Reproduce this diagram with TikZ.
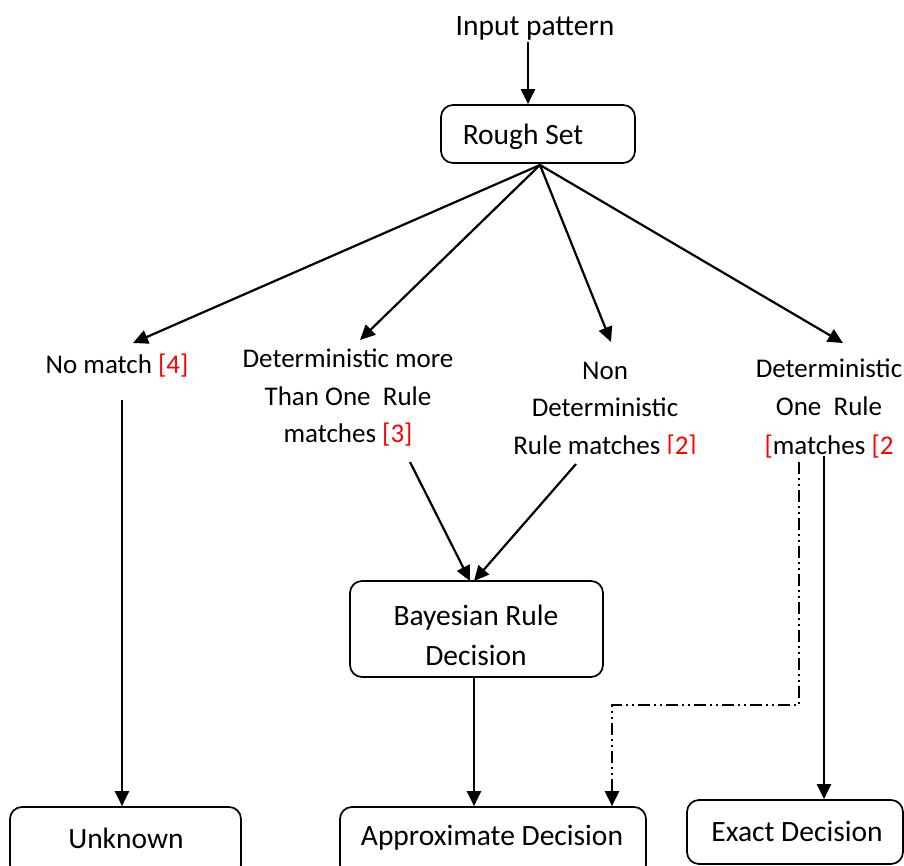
\documentclass[tikz,border=0pt]{standalone}
\usepackage{fontspec}
\setmainfont{Carlito}
\usetikzlibrary{arrows.meta}
\begin{document}
\begin{tikzpicture}[x=1pt,y=-1pt,
  txt/.style={font=\fontsize{29.5}{38}\selectfont, align=center, inner sep=0pt},
  mtxt/.style={font=\fontsize{27}{37.5}\selectfont, align=center, inner sep=0pt},
  box/.style={draw, line width=1.7pt, rounded corners=12pt, inner sep=0pt},
  conn/.style={line width=2.2pt, -{Triangle[length=15pt,width=14pt]}},
  dd/.style={conn, dash pattern=on 12pt off 4pt on 2pt off 4pt on 2pt off 4pt}]
\useasboundingbox (0,0) rectangle (904,866);
\newcommand{\rf}[1]{\textcolor{red}{#1}}
% boxes
\node[box, minimum width=194pt, minimum height=58pt] (rough) at (538,134) {};
\node[box, minimum width=253pt, minimum height=96pt] (bayes) at (476.5,629) {};
\node[box, minimum width=231pt, minimum height=70pt] (unk) at (125.5,842) {};
\node[box, minimum width=306pt, minimum height=70pt] (appr) at (493,842) {};
\node[box, minimum width=216pt, minimum height=64pt] (exact) at (795,832) {};
% texts
\node[txt] (inp) at (535,28) {Input pattern};
\node[txt] (roughT) at (523,137) {Rough Set};
\node[mtxt] (nm) at (117,366) {No match \rf{[4]}};
\node[mtxt] (dm) at (348,398) {Deterministic more\\Than One~ Rule\\matches \rf{[3]}};
\begin{scope}
\clip (480,340) rectangle (720,453);
\node[mtxt] (nd) at (605,410) {Non\\Deterministic\\Rule matches \rf{[2]}};
\end{scope}
\node[mtxt] (d1) at (829,409) {Deterministic\\One~ Rule\\[2pt]\rf{[}matches \rf{[2}};
\begin{scope}
\clip (352,583) rectangle (601,665.5);
\node[txt, font=\fontsize{29.5}{40}\selectfont] (bayesT) at (476,635) {Bayesian Rule\\Decision};
\end{scope}
\node[txt] (unkT) at (126,838) {Unknown};
\node[txt] (apprT) at (492,838) {Approximate Decision};
\node[txt] (exactT) at (797,831) {Exact Decision};
% coordinates
\coordinate (c0) at (528,42);
\coordinate (cf) at (540,165);
\coordinate (e1) at (133,343);
\coordinate (e2) at (360,340);
\coordinate (e3) at (611,342);
\coordinate (e4) at (843,343);
\coordinate (s1) at (122,400);
\coordinate (s2) at (410,462);
\coordinate (s3) at (576,464);
\coordinate (b1) at (470,581);
\coordinate (b2) at (474,581);
\coordinate (s4) at (824,456);
\coordinate (s5) at (799,462);
\coordinate (k1) at (799,705);
\coordinate (k2) at (612,705);
% connectors
\draw[conn] (c0) -- (c0 |- rough.north);
\draw[conn] (cf) -- (e1);
\draw[conn] (cf) -- (e2);
\draw[conn] (cf) -- (e3);
\draw[conn] (cf) -- (e4);
\draw[conn] (s1) -- (s1 |- unk.north);
\draw[conn] (s2) -- (b1);
\draw[conn] (s3) -- (b2);
\draw[conn] (b2 |- bayes.south) -- (b2 |- appr.north);
\draw[conn] (s4) -- (s4 |- exact.north);
\draw[dd] (s5) -- (k1) -- (k2) -- (k2 |- appr.north);
\end{tikzpicture}
\end{document}
